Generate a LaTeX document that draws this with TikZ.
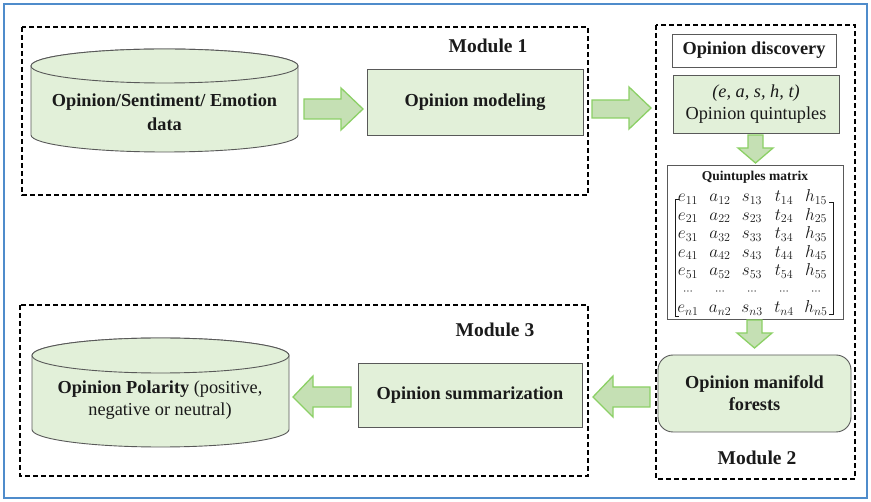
\documentclass[tikz,border=0pt]{standalone}
\usepackage{fontspec}
\setmainfont{Liberation Serif}
\usetikzlibrary{matrix}
\definecolor{boxgreen}{HTML}{E2F0D9}
\definecolor{arrowfill}{HTML}{C5E0B4}
\definecolor{arrowline}{HTML}{8CD066}
\definecolor{boxline}{HTML}{595959}
\definecolor{frameblue}{HTML}{4F8CCB}
\definecolor{txt}{HTML}{1A1A1A}
\begin{document}
\begin{tikzpicture}[x=1pt,y=-1pt,
  modbox/.style={draw=black, line width=1.3pt, dash pattern=on 5pt off 3pt},
  procbox/.style={draw=boxline, line width=0.9pt, fill=boxgreen, text=txt, align=center, inner sep=0pt},
  whitebox/.style={draw=boxline, line width=0.9pt, fill=white, text=txt, align=center, inner sep=0pt},
  cylshape/.style={draw=boxline, line width=0.9pt, fill=boxgreen},
  blockarrow/.style={draw=arrowline, fill=arrowfill, line width=1.3pt, line join=miter},
  bigbold/.style={font=\fontsize{18.3}{22}\selectfont\bfseries},
  bigreg/.style={font=\fontsize{18.3}{22}\selectfont},
  modlabel/.style={text=txt, inner sep=0pt, font=\fontsize{19.5}{20}\selectfont\bfseries},
  lbl/.style={text=txt, align=center, inner sep=0pt},
]
\useasboundingbox (0,0) rectangle (871,502);
\fill[white] (0,0) rectangle (871,502);
\draw[frameblue, line width=1.5pt] (4,4) rectangle (867,498);

% module frames
\draw[modbox] (22,27) rectangle (588,195);
\draw[modbox] (656,25) rectangle (855,479);
\draw[modbox] (20,305) rectangle (588,476);

% cylinder 1
\path[cylshape] (31,66) -- (31,135)
  arc[start angle=180, end angle=360, x radius=133.5pt, y radius=17pt]
  -- (298,66)
  arc[start angle=0, end angle=180, x radius=133.5pt, y radius=17pt] -- cycle;
\path[cylshape] (164.5,66) ellipse [x radius=133.5pt, y radius=17pt];
\node[lbl, font=\fontsize{18.3}{23.5}\selectfont\bfseries] (data) at (164.5,112) {Opinion/Sentiment/ Emotion\\data};

% cylinder 2
\path[cylshape] (32,355.5) -- (32,429.5)
  arc[start angle=180, end angle=360, x radius=128.5pt, y radius=17.5pt]
  -- (289,355.5)
  arc[start angle=0, end angle=180, x radius=128.5pt, y radius=17.5pt] -- cycle;
\path[cylshape] (160.5,355.5) ellipse [x radius=128.5pt, y radius=17.5pt];
\node[lbl, bigreg] (polarity) at (160,400) {\textbf{Opinion Polarity} (positive,\\negative or neutral)};

% process boxes
\node[procbox, bigbold, minimum width=216pt, minimum height=66pt] (model) at (475,102) {Opinion modeling};
\node[procbox, bigbold, minimum width=224pt, minimum height=64pt] (summ) at (470,395) {Opinion summarization};
\node[whitebox, bigbold, minimum width=164pt, minimum height=33pt] (disc) at (754,50.5) {Opinion discovery};
\node[procbox, bigreg, minimum width=166pt, minimum height=58pt] (quint) at (756,104) {\textit{(e, a, s, h, t)}\\Opinion quintuples};
\node[whitebox, minimum width=176pt, minimum height=154pt] (qbox) at (755,242) {};
\node[procbox, bigbold, minimum width=193pt, minimum height=77pt, rounded corners=15pt] (forest) at (754.5,393.5) {Opinion manifold\\forests};

% matrix
\node[lbl, font=\fontsize{13.5}{13.5}\selectfont\bfseries] (qtitle) at (755,177) {Quintuples matrix};
\matrix (qm) [matrix of math nodes, inner sep=0pt, column sep=0pt, row sep=0pt,
  nodes={minimum width=32pt, minimum height=18.5pt, inner sep=0pt, text height=7.5pt, text depth=3.5pt,
    text=txt, font=\fontsize{16.5}{16.5}\selectfont},
  row 6/.style={minimum height=12pt, text height=3pt, text depth=0pt}]
  at (752,255.25) {
  e_{11} & a_{12} & s_{13} & t_{14} & h_{15} \\
  e_{21} & a_{22} & s_{23} & t_{24} & h_{25} \\
  e_{31} & a_{32} & s_{33} & t_{34} & h_{35} \\
  e_{41} & a_{42} & s_{43} & t_{44} & h_{45} \\
  e_{51} & a_{52} & s_{53} & t_{54} & h_{55} \\
  \scriptstyle\cdots & \scriptstyle\cdots & \scriptstyle\cdots & \scriptstyle\cdots & \scriptstyle\cdots \\
  e_{n1} & a_{n2} & s_{n3} & t_{n4} & h_{n5} \\
};
\draw[txt, line width=0.9pt] (679,199) -- (675,199) -- (675,316) -- (679,316);
\draw[txt, line width=0.9pt] (829,202) -- (833,202) -- (833,314) -- (829,314);

% module labels
\node[modlabel] (m1) at (488,46) {Module 1};
\node[modlabel] (m2) at (757,458) {Module 2};
\node[modlabel] (m3) at (495,330) {Module 3};

% block arrows
\path[blockarrow] (304,99) -- (341,99) -- (341,88) -- (363,109) -- (341,130) -- (341,119) -- (304,119) -- cycle;
\path[blockarrow] (592,100) -- (629,100) -- (629,87) -- (651,108) -- (629,129) -- (629,118) -- (592,118) -- cycle;
\path[blockarrow] (748,135) -- (763,135) -- (763,148) -- (773,148) -- (755.5,163) -- (738,148) -- (748,148) -- cycle;
\path[blockarrow] (747,320) -- (762,320) -- (762,333) -- (772,333) -- (754.5,348) -- (737,333) -- (747,333) -- cycle;
\path[blockarrow] (650,387) -- (613,387) -- (613,376) -- (593,397) -- (613,417) -- (613,407) -- (650,407) -- cycle;
\path[blockarrow] (351,387) -- (313,387) -- (313,376) -- (293,397) -- (313,417) -- (313,407) -- (351,407) -- cycle;
\end{tikzpicture}
\end{document}
